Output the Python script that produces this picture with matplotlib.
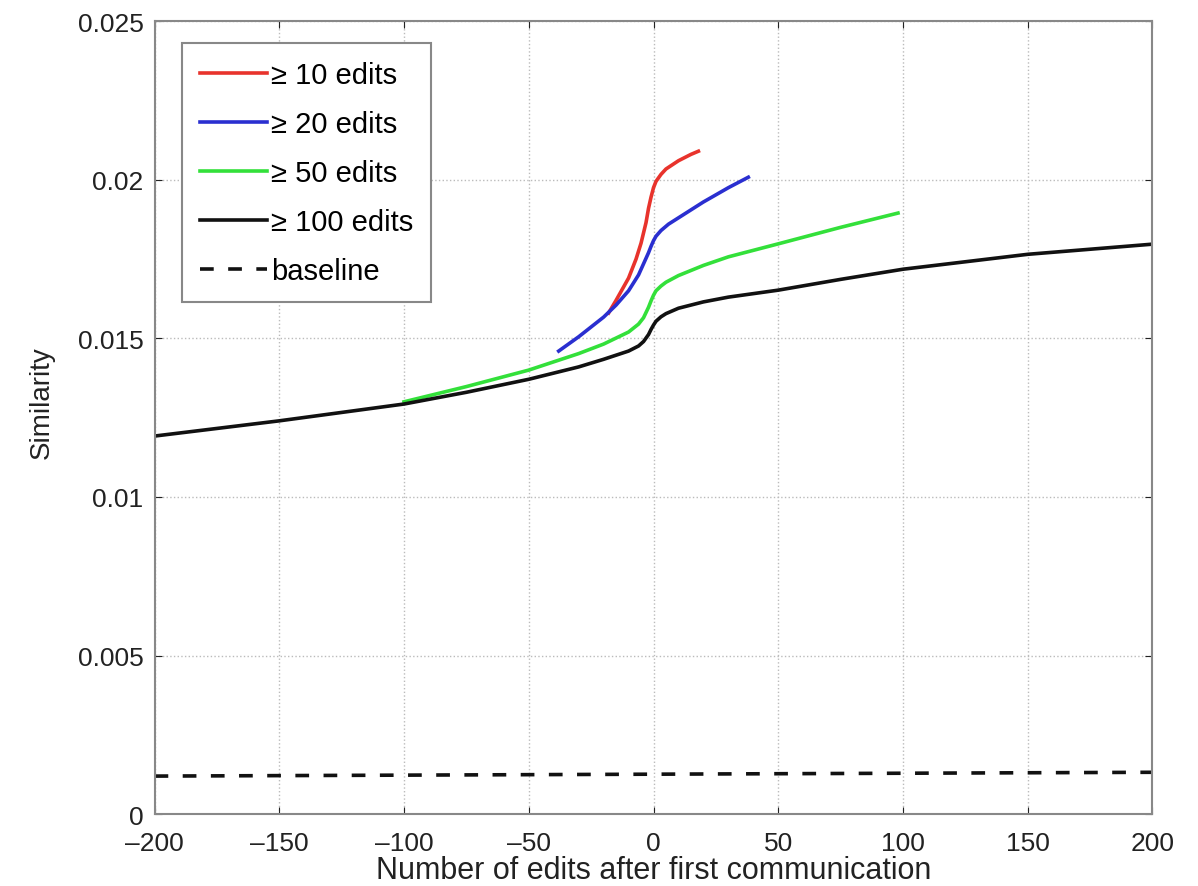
import matplotlib
matplotlib.use("Agg")
import matplotlib.pyplot as plt
import numpy as np

plt.rcParams['font.family'] = ['Liberation Sans', 'DejaVu Sans']

# Data
x_black = [-200, -150, -100, -75, -50, -30, -20, -10, -6, -4, -2, -1, 0, 1, 3, 5, 10, 20, 30, 50, 75, 100, 150, 200]
y_black = [0.01192, 0.01240, 0.01293, 0.01330, 0.01371, 0.01410, 0.01434, 0.01460, 0.01476, 0.01490, 0.01512, 0.01528, 0.01542, 0.01554, 0.01568, 0.01578, 0.01595, 0.01615, 0.01630, 0.01652, 0.01686, 0.01718, 0.01765, 0.01797]

x_green = [-100, -75, -50, -30, -20, -10, -6, -4, -2, -1, 0, 1, 3, 5, 10, 20, 30, 50, 75, 98]
y_green = [0.01300, 0.01348, 0.01400, 0.01452, 0.01482, 0.01520, 0.01545, 0.01565, 0.01598, 0.01618, 0.01636, 0.01650, 0.01665, 0.01677, 0.01698, 0.01730, 0.01757, 0.01798, 0.01850, 0.01895]

x_blue = [-38, -30, -20, -15, -10, -6, -4, -2, -1, 0, 1, 3, 6, 10, 20, 30, 38]
y_blue = [0.01460, 0.01505, 0.01567, 0.01605, 0.01650, 0.01700, 0.01735, 0.01770, 0.01790, 0.01808, 0.01822, 0.01840, 0.01860, 0.01880, 0.01930, 0.01975, 0.02008]

x_red = [-18, -15, -10, -7, -5, -3, -2, -1, 0, 1, 3, 5, 10, 15, 18]
y_red = [0.01580, 0.01620, 0.01690, 0.01750, 0.01800, 0.01865, 0.01910, 0.01945, 0.01975, 0.01995, 0.02017, 0.02034, 0.02060, 0.02080, 0.02090]

x_base = [-200, 200]
y_base = [0.00120, 0.00132]

labels = ['\u2265 10 edits', '\u2265 20 edits', '\u2265 50 edits', '\u2265 100 edits', 'baseline']

fig = plt.figure(figsize=(11.98, 8.87), dpi=100)
ax = fig.add_axes([0.129, 0.081, 0.833, 0.894])

ax.plot(x_red, y_red, color='#e8332c', lw=2.6, label=labels[0])
ax.plot(x_blue, y_blue, color='#2a2fd0', lw=2.6, label=labels[1])
ax.plot(x_green, y_green, color='#33e03a', lw=2.6, label=labels[2])
ax.plot(x_black, y_black, color='#111111', lw=2.6, label=labels[3])
ax.plot(x_base, y_base, color='#111111', lw=2.6, ls=(0, (3.8, 4.0)), label=labels[4])

ax.set_xlim(-200, 200)
ax.set_ylim(0, 0.025)
ax.set_xticks([-200, -150, -100, -50, 0, 50, 100, 150, 200])
ax.set_xticklabels(['\u2013200', '\u2013150', '\u2013100', '\u201350', '0', '50', '100', '150', '200'])
ax.set_yticks([0, 0.005, 0.01, 0.015, 0.02, 0.025])
ax.set_yticklabels(['0', '0.005', '0.01', '0.015', '0.02', '0.025'])
ax.tick_params(direction='in', length=5, labelsize=19, colors='#222222', top=True, right=True)
ax.tick_params(axis='x', pad=12)
ax.tick_params(axis='y', pad=8)
ax.grid(True, color='#bbbbbb', ls=':', lw=1)
for s in ax.spines.values():
    s.set_color('#888888')
    s.set_linewidth(1.5)

ax.set_xlabel('Number of edits after first communication', fontsize=22, color='#222222', labelpad=0)
ax.set_ylabel('Similarity', fontsize=20, color='#222222')
ax.yaxis.set_label_coords(-0.1, 0.52)

leg = ax.legend(loc='upper left', bbox_to_anchor=(0.028, 0.972), fontsize=21, handlelength=2.3,
                handletextpad=0.15, labelspacing=0.72, borderpad=0.6, borderaxespad=0,
                fancybox=False, framealpha=1)
leg.get_frame().set_edgecolor('#888888')
leg.get_frame().set_linewidth(1.5)

fig.savefig('out.png', dpi=100)
